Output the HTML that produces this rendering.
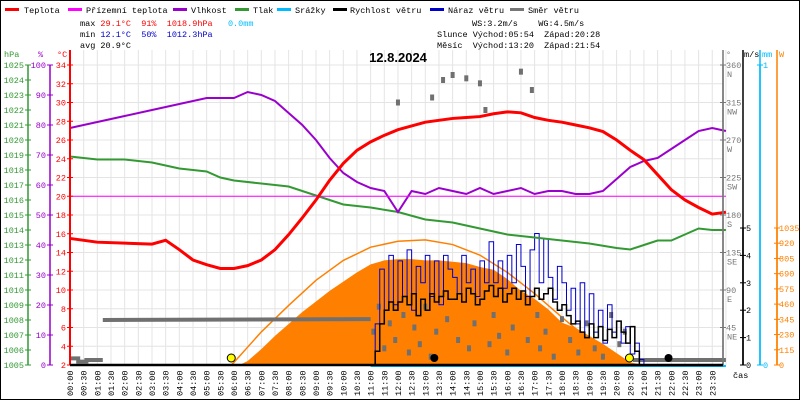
<!DOCTYPE html>
<html><head><meta charset="utf-8"><style>
body{margin:0;background:#fff}
svg{display:block;font-family:"Liberation Mono",monospace}
</style></head><body>
<svg id="c" width="800" height="400" viewBox="0 0 800 400" xmlns="http://www.w3.org/2000/svg">
<rect x="0.5" y="0.5" width="799" height="399" fill="#fff" stroke="#000"/>
<g id="grid"></g>
<g id="series"></g>
<g id="axes"></g>
<g font-size="8.5">
 <g><rect x="5" y="8" width="14" height="3" fill="#f00"/><text x="24" y="13">Teplota</text></g>
 <g><rect x="68" y="8" width="14" height="3" fill="#f0f"/><text x="86" y="13">Přízemní teplota</text></g>
 <g><rect x="173" y="8" width="14" height="3" fill="#90c"/><text x="191" y="13">Vlhkost</text></g>
 <g><rect x="235" y="8" width="14" height="3" fill="#393"/><text x="253" y="13">Tlak</text></g>
 <g><rect x="277" y="8" width="14" height="3" fill="#0bf"/><text x="295" y="13">Srážky</text></g>
 <g><rect x="333" y="8" width="14" height="3" fill="#000"/><text x="350" y="13">Rychlost větru</text></g>
 <g><rect x="430" y="8" width="14" height="3" fill="#00c"/><text x="448" y="13">Náraz větru</text></g>
 <g><rect x="510" y="8" width="14" height="3" fill="#777"/><text x="528" y="13">Směr větru</text></g>
</g>
<g font-size="8.5">
 <text x="80" y="26" xml:space="preserve">max <tspan fill="#f00">29.1°C  91%  1018.9hPa</tspan>   <tspan fill="#0bf">0.0mm</tspan></text>
 <text x="80" y="37" xml:space="preserve">min <tspan fill="#00c">12.1°C  50%  1012.3hPa</tspan></text>
 <text x="80" y="48">avg 20.9°C</text>
 <text x="472" y="26" xml:space="preserve">WS:3.2m/s    WG:4.5m/s</text>
 <text x="437" y="37" xml:space="preserve">Slunce Východ:05:54  Západ:20:28</text>
 <text x="437" y="48" xml:space="preserve">Měsíc  Východ:13:20  Západ:21:54</text>
</g>
<text x="398" y="62" font-size="13" font-weight="bold" text-anchor="middle" font-family="Liberation Sans, sans-serif">12.8.2024</text>
</svg>
<script>
// ---- data ----
const tempTimes=[0,1,2,3,3.5,4,4.5,5,5.5,6,6.5,7,7.5,8,8.5,9,9.5,10,10.5,11,11.5,12,12.5,13,13.5,14,14.5,15,15.5,16,16.5,17,17.5,18,18.5,19,19.5,20,20.5,21,21.5,22,22.5,23,23.5,24];
const tempValues=[15.5,15.1,15.0,14.9,15.3,14.3,13.2,12.7,12.3,12.3,12.6,13.2,14.3,15.9,17.7,19.6,21.7,23.5,24.9,25.8,26.5,27.1,27.5,27.9,28.1,28.3,28.4,28.5,28.8,29.0,28.9,28.4,28.1,27.9,27.6,27.3,26.9,26.0,24.9,23.9,22.3,20.7,19.6,18.8,18.1,18.3];
const apparentTimes=[0,24];
const apparentValues=[20,20];
const humTimes=[0,1,2,3,4,5,6,6.5,7,7.5,8,8.5,9,9.5,10,10.5,11,11.5,12,12.5,13,13.5,14,14.5,15,15.5,16,16.5,17,17.5,18,18.5,19,19.5,20,20.5,21,21.5,22,22.5,23,23.5,24];
const humValues=[79,81,83,85,87,89,89,91,90,88,84,80,75,69,64,61,59,58,51,58,57,59,58,57,59,57,58,59,57,58,58,57,57,58,62,66,68,69,72,75,78,79,78];
const presTimes=[0,1,2,3,3.5,4,5,5.5,6,7,8,9,9.5,10,11,12,13,14,15,16,17,18,19,20,20.5,21,21.5,22,22.5,23,23.5,24];
const presValues=[1018.9,1018.7,1018.7,1018.5,1018.3,1018.1,1017.9,1017.5,1017.3,1017.1,1016.9,1016.3,1016.0,1015.7,1015.5,1015.2,1014.7,1014.5,1014.1,1013.7,1013.5,1013.3,1013.1,1012.8,1012.7,1013.0,1013.3,1013.3,1013.7,1014.1,1014.0,1014.0];
const solarTimes=[6.2,6.5,7,7.5,8,8.5,9,9.5,10,10.5,11,11.5,12,12.5,13,13.5,14,14.5,15,15.5,16,16.5,17,17.5,18,18.5,19,19.5,20,20.5,21];
const solarValues=[0,30,120,220,310,400,480,560,630,700,760,790,800,800,790,790,780,770,740,720,650,560,500,420,320,280,220,160,90,20,0];
const clearTimes=[5.9,6,7,8,9,10,11,12,13,14,15,16,17,18,19,20,20.47];
const clearValues=[0,20,250,450,640,790,890,935,945,910,830,700,540,360,190,50,0];
const windStart=11, windStep=1/6;
const windSpeed=[0,0.5,1.5,2,2.3,2.0,2.3,2.5,2.2,2.6,1.8,2.4,2.0,2.6,2.3,2.5,2.7,2.4,2.4,2.6,2.3,2.8,2.6,2.2,2.4,2.7,2.9,2.5,2.8,2.3,2.6,2.8,2.4,2.7,2.2,2.5,2.8,2.4,2.6,2.8,2.3,2.0,2.2,1.8,1.5,1.6,1.2,1.0,1.5,1.0,1.4,0.9,1.3,1.0,1.6,1.2,0.8,1.4,0.5,0,0];
const windGust=[0,1.5,3.5,2.0,4.0,2.2,3.8,2.5,4.2,2.0,3.6,3.0,4.0,2.5,3.8,2.2,4.0,3.5,3.2,2.6,4.0,3.0,3.5,2.5,3.8,3.0,4.5,3.0,3.8,2.8,4.0,3.0,4.4,3.6,2.5,4.2,4.8,3.0,4.6,3.2,2.4,3.6,3.0,2.0,2.8,1.5,3.0,1.0,2.6,1.2,2.0,0.8,2.2,1.2,1.6,0.8,1.4,0.4,0.8,0.2,0];
const dirNightTimes=[0,0.3,0.3,0.6,0.6,1.2];
const dirNightValues=[8,8,4,4,6,6];
const dirMorningTimes=[1.2,11];
const dirMorningValues=[54,55];
const dirEveningTimes=[20.6,24];
const dirEveningValues=[6,6];
const dirDotTimes=[11.1,11.3,11.5,11.7,11.9,12.0,12.2,12.4,12.6,12.8,13.0,13.2,13.25,13.4,13.65,13.8,14.0,14.2,14.5,14.6,14.8,15.0,15.2,15.35,15.5,15.7,16.0,16.2,16.5,16.75,16.9,17.1,17.2,17.4,17.7,18.0,18.3,18.6,18.9,19.2,19.5,19.8,20.1,20.3];
const dirDotValues=[40,70,20,50,30,315,60,15,45,25,70,10,321,40,342,55,348,30,344,20,50,338,306,25,60,35,15,45,352,30,330,60,20,40,10,55,30,15,50,20,10,60,25,40];
const tempTicks=[2,4,6,8,10,12,14,16,18,20,22,24,26,28,30,32,34];
const humTicks=[0,10,20,30,40,50,60,70,80,90,100];
const presTicks=[1005,1006,1007,1008,1009,1010,1011,1012,1013,1014,1015,1016,1017,1018,1019,1020,1021,1022,1023,1024,1025];
const dirTicks=[45,90,135,180,225,270,315,360];
const dirNames=["NE","E","SE","S","SW","W","NW","N"];
const msTicks=[0,1,2,3,4,5];
const wTicks=[0,115,230,345,460,575,690,805,920,1035];
const sunEvents=[5.9,20.47];
const moonEvents=[13.33,21.9];

// ---- scales ----
const X0=70,PH=27.33,Y0=365;
const x=h=>X0+h*PH;
const yT=v=>Y0-(v-2)*(300/32);
const yH=v=>Y0-v*3;
const yP=v=>Y0-(v-1005)*15;
const yD=v=>Y0-v*(300/360);
const yS=v=>Y0-v*(137/5);
const yW=v=>Y0-v*(137/1035);
const NS="http://www.w3.org/2000/svg";
function mk(tag,attrs,parent){const e=document.createElementNS(NS,tag);for(const k in attrs)e.setAttribute(k,attrs[k]);parent.appendChild(e);return e;}
const G=document.getElementById('grid'),S=document.getElementById('series'),A=document.getElementById('axes');

for(let i=0;i<=48;i++){const l=mk('line',{x1:x(i/2),x2:x(i/2),y1:50,y2:Y0,stroke:'#e4e4e4'},G);

}
tempTicks.forEach(t=>{const l=mk('line',{x1:X0,x2:x(24)-3,y1:yT(t),y2:yT(t),stroke:'#e4e4e4'},G);

});

function poly(ts,vs,sy,attrs,name){const p=mk('polyline',Object.assign({points:ts.map((t,i)=>x(t)+','+sy(vs[i])).join(' '),fill:'none'},attrs),S);

return p;}
function step(vs,sy,attrs,name){let pts=[];vs.forEach((v,i)=>{const t0=windStart+i*windStep;pts.push(x(t0)+','+sy(v),x(t0+windStep)+','+sy(v));});
const p=mk('polyline',Object.assign({points:pts.join(' '),fill:'none'},attrs),S);

}

const sp=mk('polygon',{points:x(solarTimes[0])+','+Y0+' '+solarTimes.map((t,i)=>x(t)+','+yW(solarValues[i])).join(' ')+' '+x(solarTimes[solarTimes.length-1])+','+Y0,fill:'#ff8000'},S);


poly(clearTimes,clearValues,yW,{stroke:'#ff8000','stroke-width':1.5},'clear-sky-radiation-line');
poly(dirNightTimes,dirNightValues,yD,{stroke:'#707070','stroke-width':4},'wind-direction-night-line');
poly(dirMorningTimes,dirMorningValues,yD,{stroke:'#707070','stroke-width':4},'wind-direction-morning-line');
poly(dirEveningTimes,dirEveningValues,yD,{stroke:'#707070','stroke-width':4},'wind-direction-evening-line');
dirDotTimes.forEach((t,i)=>{const r=mk('rect',{x:x(t)-2,y:yD(dirDotValues[i])-3,width:4,height:6,fill:'#707070'},S);

});
step(windGust,yS,{stroke:'#00c','stroke-width':1},'wind-gust-line');
step(windSpeed,yS,{stroke:'#000','stroke-width':1.5},'wind-speed-line');
poly(presTimes,presValues,yP,{stroke:'#393','stroke-width':2},'pressure-line');
poly(humTimes,humValues,yH,{stroke:'#90c','stroke-width':2},'humidity-line');
poly(apparentTimes,apparentValues,yT,{stroke:'#f0f','stroke-width':1},'apparent-temp-line');
poly(tempTimes,tempValues,yT,{stroke:'#f00','stroke-width':3},'temperature-line');
const rl=mk('line',{x1:x(11),x2:x(24),y1:Y0+1,y2:Y0+1,stroke:'#0bf','stroke-width':2},S);


sunEvents.forEach(t=>{const c=mk('circle',{cx:x(t),cy:358,r:4,fill:'#ff0',stroke:'#000'},S);

});
moonEvents.forEach(t=>{const c=mk('circle',{cx:x(t),cy:358,r:4,fill:'#000'},S);

});

function axis(ax,ticks,sy,color,lx,anchor,name){
 const l=mk('line',{x1:ax,x2:ax,y1:Math.min(...ticks.map(sy)),y2:Y0,stroke:color,'stroke-width':1.5},A);
 
 
 ticks.forEach(t=>{mk('line',{x1:ax-3,x2:ax+3,y1:sy(t),y2:sy(t),stroke:color},A);
  const tx=mk('text',{x:lx,y:sy(t)+3,fill:color,'font-size':8.5,'text-anchor':anchor},A);tx.textContent=t;
  
  });
}
axis(28,presTicks,yP,'#393',24,'end','pressure-axis');
axis(50,humTicks,yH,'#90c',46,'end','humidity-axis');
axis(70,tempTicks,yT,'#f00',66,'end','temperature-axis');
mk('line',{x1:70,x2:70,y1:50,y2:Y0,stroke:'#f00','stroke-width':2},A);
axis(723,dirTicks,yD,'#777',726,'start','direction-axis');
mk('line',{x1:723,x2:723,y1:50,y2:Y0,stroke:'#777','stroke-width':1.5},A);
dirTicks.forEach((t,i)=>{const tx=mk('text',{x:727,y:yD(t)+12,fill:'#777','font-size':8.5},A);tx.textContent=dirNames[i];

});
axis(743,msTicks,yS,'#000',746,'start','wind-speed-axis');
mk('line',{x1:743,x2:743,y1:50,y2:Y0,stroke:'#000','stroke-width':1.5},A);
axis(760,[0,1],v=>Y0-v*300,'#0bf',763,'start','rain-axis');
mk('line',{x1:760,x2:760,y1:50,y2:Y0,stroke:'#0bf','stroke-width':1.5},A);
axis(777,wTicks,yW,'#ff8000',779,'start','solar-axis');
mk('line',{x1:777,x2:777,y1:50,y2:Y0,stroke:'#ff8000','stroke-width':1.5},A);
[[4,'hPa','#393'],[38,'%','#90c'],[57,'°C','#f00'],[726,'°','#777'],[744,'m/s','#000'],[762,'mm','#0bf'],[779,'W','#ff8000']].forEach(u=>{
 const tx=mk('text',{x:u[0],y:57,fill:u[2],'font-size':8.5},A);tx.textContent=u[1];
 
 });
mk('line',{x1:X0,x2:x(24)-3,y1:Y0,y2:Y0,stroke:'#000','stroke-width':2.5},A);
for(let i=0;i<48;i++){const h=Math.floor(i/2),m=i%2?'30':'00';
 const tx=mk('text',{x:0,y:0,'font-size':8.5,transform:`translate(${x(i/2)+3},396) rotate(-90)`},A);
 tx.textContent=(h<10?'0':'')+h+':'+m;
 
 }
const cas=mk('text',{x:733,y:378,'font-size':8.5},A);cas.textContent='čas';


</script>
</body></html>
